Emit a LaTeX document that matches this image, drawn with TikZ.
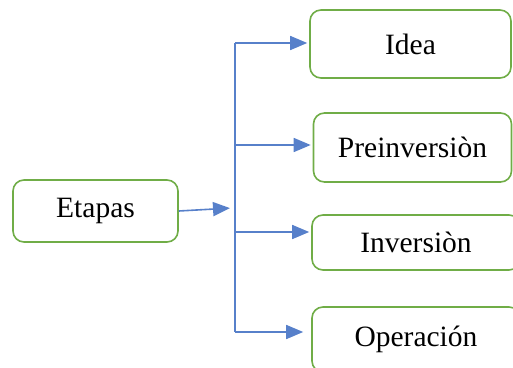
\documentclass[tikz,border=0pt]{standalone}
\usepackage{fontspec}
\setmainfont{Liberation Serif}
\usetikzlibrary{arrows.meta,positioning}
\definecolor{cBox}{HTML}{70AD47}
\definecolor{cArr}{HTML}{4472C4}
\tikzset{
  etapa/.style={rectangle,rounded corners=11pt,draw=cBox,line width=1.6pt,fill=white,
    inner sep=0pt,font=\fontsize{29.5}{34}\selectfont},
  tronco/.style={cArr!90,line width=1.6pt},
  arr/.style={-{Triangle[length=17pt,width=14pt]},cArr!90,line width=1.6pt,shorten >=2pt},
}
\begin{document}
\begin{tikzpicture}[x=1pt,y=-1pt]
  \clip (0,0) rectangle (513,367);
  % main box
  \node[etapa,minimum width=165pt,minimum height=62pt] (etapas) at (95.5,211) {Etapas};
  % stages
  \node[etapa,minimum width=201pt,minimum height=68pt] (idea) at (410.5,44) {Idea};
  \node[etapa,minimum width=198pt,minimum height=69pt] (preinv) at (412.5,147.5) {Preinversiòn};
  \node[etapa,minimum width=208pt,minimum height=55pt] (inv) at (416,242.5) {Inversiòn};
  \node[etapa,minimum width=208pt,minimum height=65pt] (oper) at (416,339.5) {Operación};
  % trunk and branch points
  \coordinate (t1) at (235,43);
  \coordinate (t2) at (235,145);
  \coordinate (t3) at (235,232);
  \coordinate (t4) at (235,332);
  \coordinate (tj) at (232,208);
  \draw[tronco] (t1) -- (t4);
  \draw[arr] (etapas.east) -- (tj);
  \draw[arr] (t1) -- (t1 -| idea.west);
  \draw[arr] (t2) -- (t2 -| preinv.west);
  \draw[arr] (t3) -- (t3 -| inv.west);
  \draw[arr] (t4) -- ([xshift=-6pt]t4 -| oper.west);
\end{tikzpicture}
\end{document}
